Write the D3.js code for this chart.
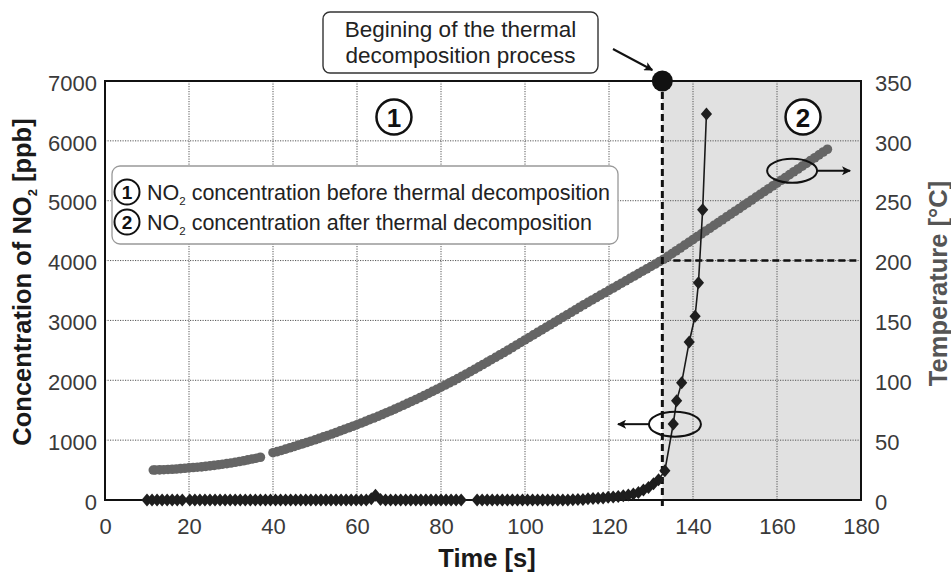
<!DOCTYPE html>
<html><head><meta charset="utf-8">
<script src="https://cdn.jsdelivr.net/npm/d3@7"></script>
<style>
body{margin:0;background:#fff}
svg{display:block}
text{font-family:"Liberation Sans",Arial,Helvetica,sans-serif}
</style>
</head><body>
<svg id="c" width="951" height="572"></svg>
<script>
// ---------------- data ----------------
const xTicks = [0,20,40,60,80,100,120,140,160,180];
const yLeftTicks = [0,1000,2000,3000,4000,5000,6000,7000];
const yRightTicks = [0,50,100,150,200,250,300,350];
const decompStart = 132.7;      // s, beginning of thermal decomposition
const decompTemp = 200;         // °C

// temperature (°C), sampled ~1 s
const tempTimes = [11.5,12,13,14,15,16,17,18,19,20,21,22,23,24,25,26,27,28,29,30,31,32,33,34,35,36,37,
  40,41,42,43,44,45,46,47,48,49,50,51,52,53,54,55,56,57,58,59,60,61,62,63,64,65,66,67,68,69,70,
  71,72,73,74,75,76,77,78,79,80,81,82,83,84,85,86,87,88,89,90,91,92,93,94,95,96,97,98,99,100,
  101,102,103,104,105,106,107,108,109,110,111,112,113,114,115,116,117,118,119,120,121,122,123,124,125,
  126,127,128,129,130,131,132,133,134,135,136,137,138,139,140,141,142,143,144,145,146,147,148,149,150,
  151,152,153,154,155,156,157,158,159,160,161,162,163,164,165,166,167,168,169,170,171,172];
const tempValues = [25.0,25.1,25.2,25.3,25.5,25.7,25.9,26.2,26.5,26.8,27.1,27.4,27.7,28.1,28.5,28.9,29.4,29.9,30.4,30.9,31.5,32.1,32.8,33.5,34.2,34.9,35.7,
  39.5,40.4,41.4,42.5,43.6,44.7,45.8,46.9,48.0,49.1,50.3,51.5,52.7,53.9,55.1,56.4,57.7,59.0,60.3,61.6,62.9,64.3,65.7,67.1,68.5,69.9,71.4,72.9,74.4,75.9,77.5,
  79.1,80.7,82.3,83.9,85.6,87.3,89.0,90.7,92.4,94.2,96.0,97.8,99.6,101.5,103.4,105.3,107.2,109.2,111.2,113.2,115.2,117.2,119.2,121.2,123.2,125.3,127.4,129.5,131.6,133.7,
  135.8,137.9,140.0,142.1,144.2,146.3,148.4,150.5,152.6,154.7,156.8,158.9,161.0,163.1,165.1,167.1,169.1,171.1,173.1,175.1,177.1,179.1,181.1,183.1,185.1,
  187.1,189.1,191.1,193.1,195.1,197.1,199.1,201.1,203.5,205.8,208.2,210.5,212.9,215.2,217.6,220.0,222.3,224.7,227.0,229.4,231.7,234.1,236.5,238.8,241.2,
  243.5,245.9,248.2,250.6,253.0,255.3,257.7,260.0,262.4,264.7,267.1,269.4,271.8,274.2,276.5,278.9,281.2,283.6,285.9,288.3,290.7,293.0];

// NO2 concentration (ppb)
const no2Times = [10,11.2,12.4,13.6,14.8,16,17.2,18.4,20.2,21.4,22.6,23.8,25,26.2,27.4,28.6,29.8,31,32.2,33.4,34.6,35.8,37,38.2,39.4,
  40.6,41.8,43,44.2,45.4,46.6,47.8,49,50.2,51.4,52.6,53.8,55,56.2,57.4,58.6,59.8,61,62.2,63.4,64.4,65.6,66.8,68,69.2,70.4,71.6,72.8,
  74,75.2,76.4,77.6,78.8,80,81.2,82.4,83.6,84.8,
  88.6,89.8,91,92.2,93.4,94.6,95.8,97,98.2,99.4,100.6,101.8,103,104.2,105.4,106.6,107.8,109,110.2,111.4,112.6,113.8,115,116.2,117.4,
  118.6,119.8,121,122.2,123.4,124.6,125.8,127,128.2,129.4,130.6,131.8,133.3,135.3,136.1,137.3,139.1,140.5,141.3,142.3,143.2];
const no2Values = [0,0,0,0,0,0,0,0,0,0,0,0,0,0,0,0,0,0,0,0,0,0,0,0,0,
  0,0,0,0,0,0,0,0,0,0,0,0,0,0,0,0,0,0,0,20,80,10,0,0,0,0,0,0,
  0,0,0,0,0,0,0,0,0,0,
  0,0,0,0,0,0,0,0,0,0,0,0,0,0,0,0,0,0,0,5,10,10,20,25,30,
  35,45,50,60,70,85,100,125,165,210,270,340,490,1270,1660,1960,2640,3070,3630,4850,6450];

// ---------------- drawing ----------------
const svg = d3.select('#c');
const FONT = '"Liberation Sans",Arial,Helvetica,sans-serif';
const x = d3.scaleLinear().domain([0,180]).range([105,861]);
const yL = d3.scaleLinear().domain([0,7000]).range([500,81]);
const yR = d3.scaleLinear().domain([0,350]).range([500,81]);

const defs = svg.append('defs');
defs.append('marker').attr('id','ah').attr('viewBox','0 0 10 10').attr('refX',9).attr('refY',5)
  .attr('markerWidth',4.5).attr('markerHeight',4.5).attr('orient','auto-start-reverse').attr('markerUnits','strokeWidth')
  .append('path').attr('d','M0,0L10,5L0,10L2.5,5Z').attr('fill','#111');

// shaded region after decomposition
svg.append('rect')
  .attr('x', x(decompStart)).attr('y', yL(7000))
  .attr('width', x(180)-x(decompStart)).attr('height', yL(0)-yL(7000))
  .attr('fill','#e1e1e1');

// grid
const grid = svg.append('g').attr('stroke','#555').attr('stroke-width',1).attr('stroke-dasharray','1.2,1.3');
grid.selectAll('.gx').data(xTicks.slice(1,-1)).join('line')
  .attr('x1',d=>x(d)).attr('x2',d=>x(d)).attr('y1',yL(7000)).attr('y2',yL(0));
grid.selectAll('.gy').data(yLeftTicks.slice(1,-1)).join('line')
  .attr('x1',x(0)).attr('x2',x(180)).attr('y1',d=>yL(d)).attr('y2',d=>yL(d));

// axes
function styleAxis(g){
  g.select('.domain').remove();
  g.attr('font-family',FONT).attr('font-size',22);
  g.selectAll('text').attr('fill','#3a3a3a');
}
svg.append('g').attr('transform',`translate(${x(0)},0)`)
  .call(d3.axisLeft(yL).tickValues(yLeftTicks).tickSize(0).tickPadding(8).tickFormat(d3.format('d')))
  .call(styleAxis).selectAll('text').attr('dy','0.42em');
svg.append('g').attr('transform',`translate(${x(180)},0)`)
  .call(d3.axisRight(yR).tickValues(yRightTicks).tickSize(0).tickPadding(14).tickFormat(d3.format('d')))
  .call(styleAxis).selectAll('text').attr('dy','0.42em');
svg.append('g').attr('transform',`translate(0,${yL(0)})`)
  .call(d3.axisBottom(x).tickValues(xTicks).tickSize(0).tickPadding(18).tickFormat(d3.format('d')))
  .call(styleAxis);

// 200 °C dashed line
svg.append('line').attr('x1',x(decompStart)).attr('x2',x(180)).attr('y1',yR(decompTemp)).attr('y2',yR(decompTemp))
  .attr('stroke','#111').attr('stroke-width',2.5).attr('stroke-dasharray','7,4');

// temperature series
const tempData = tempTimes.map((t,i)=>({t, v: tempValues[i]}));
svg.append('g').selectAll('circle').data(tempData).join('circle')
  .attr('cx',d=>x(d.t)).attr('cy',d=>yR(d.v)).attr('r',4.8).attr('fill','#656565');

// frame
svg.append('rect').attr('x',x(0)).attr('y',yL(7000)).attr('width',x(180)-x(0)).attr('height',yL(0)-yL(7000))
  .attr('fill','none').attr('stroke','#111').attr('stroke-width',2);

// vertical dashed line at decomposition start
svg.append('line').attr('x1',x(decompStart)).attr('x2',x(decompStart)).attr('y1',yL(7000)).attr('y2',yL(0)+7)
  .attr('stroke','#111').attr('stroke-width',3).attr('stroke-dasharray','7,4');

// NO2 series
const no2Data = no2Times.map((t,i)=>({t, v: no2Values[i]}));
svg.append('path').datum(no2Data)
  .attr('d', d3.line().x(d=>x(d.t)).y(d=>yL(d.v)))
  .attr('fill','none').attr('stroke','#1a1a1a').attr('stroke-width',1.6);
svg.append('g').selectAll('path').data(no2Data).join('path')
  .attr('transform',d=>`translate(${x(d.t)},${yL(d.v)})`)
  .attr('d','M0,-6.5L5.6,0L0,6.5L-5.6,0Z').attr('fill','#1e1e1e');

// big black dot
svg.append('circle').attr('cx',x(decompStart)).attr('cy',yL(7000)).attr('r',10.5).attr('fill','#111');

// annotation box
svg.append('rect').attr('x',323).attr('y',12).attr('width',275).attr('height',61).attr('rx',7)
  .attr('fill','#fff').attr('stroke','#333').attr('stroke-width',1.4);
const ann = svg.append('text').attr('text-anchor','middle').attr('font-size',22.5).attr('fill','#222');
ann.append('tspan').attr('x',460.5).attr('y',37).text('Begining of the thermal');
ann.append('tspan').attr('x',460.5).attr('y',63).text('decomposition process');
svg.append('line').attr('x1',613).attr('y1',49).attr('x2',x(decompStart)-10).attr('y2',yL(7000)-11)
  .attr('stroke','#111').attr('stroke-width',2).attr('marker-end','url(#ah)');

// legend box
svg.append('rect').attr('x',112).attr('y',166).attr('width',506).attr('height',78).attr('rx',8)
  .attr('fill','#fff').attr('stroke','#999').attr('stroke-width',1.3);
const legendRows = [
  {num:'1', label:' concentration before thermal decomposition'},
  {num:'2', label:' concentration after thermal decomposition'}
];
legendRows.forEach((r,i)=>{
  const cy = 192 + i*30;
  svg.append('circle').attr('cx',127).attr('cy',cy).attr('r',12.5).attr('fill','#fff').attr('stroke','#111').attr('stroke-width',2);
  svg.append('text').attr('x',127).attr('y',cy+7).attr('text-anchor','middle').attr('font-size',19).attr('font-weight','bold').attr('fill','#111').text(r.num);
  const t = svg.append('text').attr('x',147).attr('y',cy+8).attr('font-size',21.5).attr('fill','#222');
  t.append('tspan').text('NO');
  t.append('tspan').attr('font-size',11.5).attr('dy',5).text('2');
  t.append('tspan').attr('dy',-5).text(r.label);
});

// region labels (circled numbers)
[{num:'1', t:68.8},{num:'2', t:166.2}].forEach(r=>{
  svg.append('circle').attr('cx',x(r.t)).attr('cy',117).attr('r',17.5).attr('fill','#fff').attr('stroke','#111').attr('stroke-width',2.5);
  svg.append('text').attr('x',x(r.t)).attr('y',126.5).attr('text-anchor','middle').attr('font-size',26).attr('font-weight','bold').attr('fill','#111').text(r.num);
});

// ellipse annotations with arrows
const eT = {cx: x(163.6), cy: yR(275)};
svg.append('ellipse').attr('cx',eT.cx).attr('cy',eT.cy).attr('rx',25).attr('ry',12)
  .attr('fill','none').attr('stroke','#111').attr('stroke-width',2);
svg.append('line').attr('x1',eT.cx+25).attr('x2',eT.cx+58).attr('y1',eT.cy).attr('y2',eT.cy)
  .attr('stroke','#111').attr('stroke-width',2).attr('marker-end','url(#ah)');
const eN = {cx: x(135.7), cy: yL(1267)};
svg.append('ellipse').attr('cx',eN.cx).attr('cy',eN.cy).attr('rx',26).attr('ry',12.5)
  .attr('fill','none').attr('stroke','#111').attr('stroke-width',2);
svg.append('line').attr('x1',eN.cx-26).attr('x2',eN.cx-57).attr('y1',eN.cy).attr('y2',eN.cy)
  .attr('stroke','#111').attr('stroke-width',2).attr('marker-end','url(#ah)');

// axis titles
svg.append('text').attr('x',487).attr('y',567).attr('text-anchor','middle')
  .attr('font-size',25.5).attr('font-weight','bold').attr('fill','#1a1a1a').text('Time [s]');
const lt = svg.append('text').attr('transform',`translate(31,282) rotate(-90)`)
  .attr('text-anchor','middle').attr('font-size',25.5).attr('font-weight','bold').attr('fill','#1a1a1a');
lt.append('tspan').text('Concentration of NO');
lt.append('tspan').attr('font-size',13).attr('dy',6).text('2');
lt.append('tspan').attr('dy',-6).text(' [ppb]');
svg.append('text').attr('transform',`translate(947,283.5) rotate(-90)`)
  .attr('text-anchor','middle').attr('font-size',25.5).attr('font-weight','bold').attr('fill','#555').text('Temperature [°C]');
</script>
</body></html>
